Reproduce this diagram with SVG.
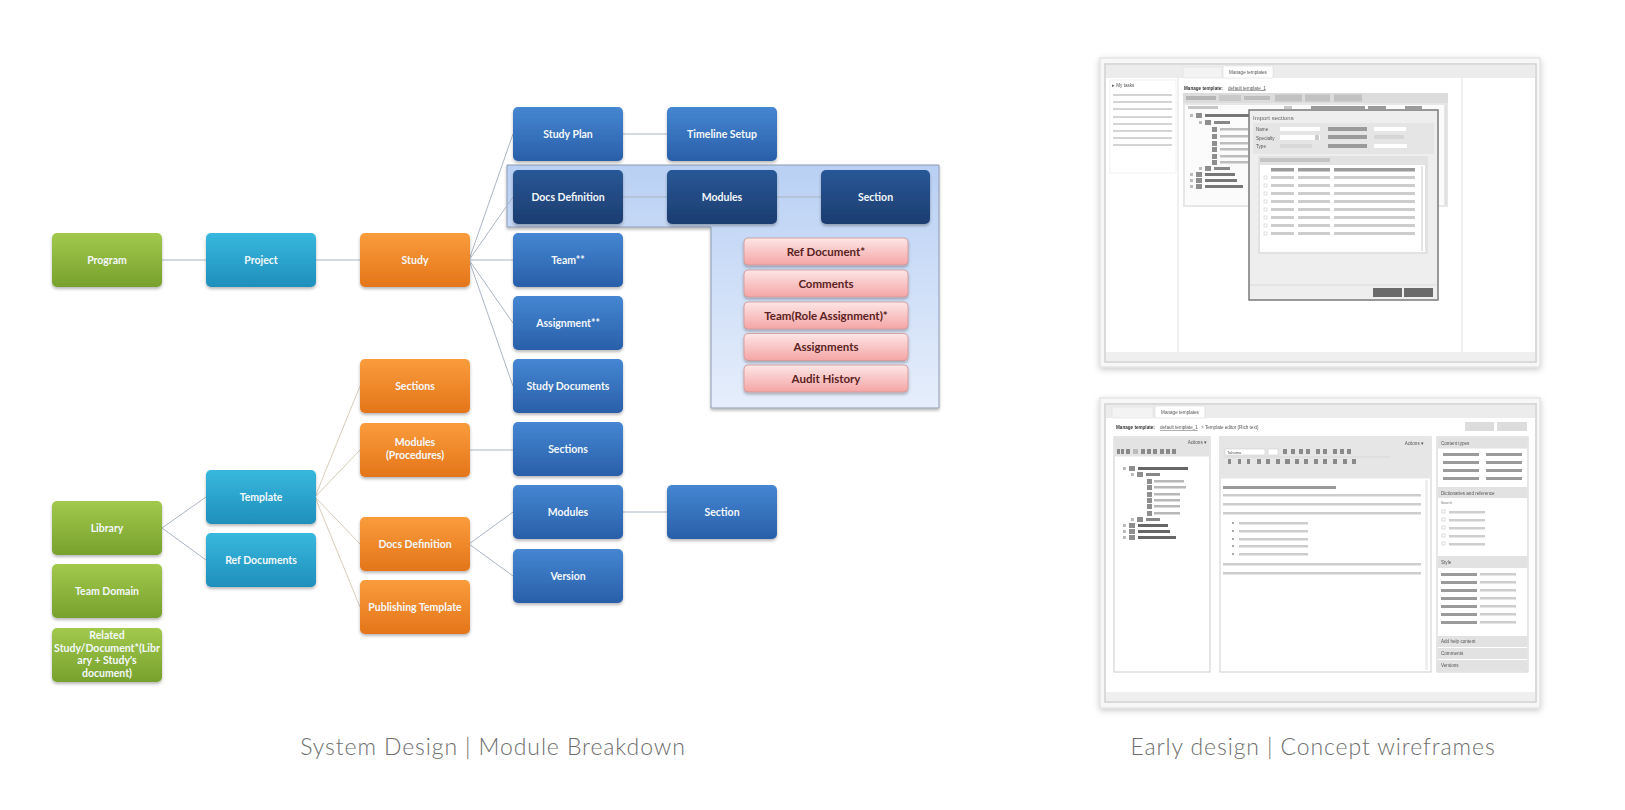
<svg xmlns="http://www.w3.org/2000/svg" width="1625" height="810" viewBox="0 0 1625 810">
<defs>
  <linearGradient id="gGreen" x1="0" y1="0" x2="0" y2="1"><stop offset="0" stop-color="#a2c94c"/><stop offset="1" stop-color="#77a12d"/></linearGradient>
  <linearGradient id="gCyan" x1="0" y1="0" x2="0" y2="1"><stop offset="0" stop-color="#38b8de"/><stop offset="1" stop-color="#1f8fbb"/></linearGradient>
  <linearGradient id="gOrange" x1="0" y1="0" x2="0" y2="1"><stop offset="0" stop-color="#fa9c3c"/><stop offset="1" stop-color="#e4751a"/></linearGradient>
  <linearGradient id="gBlue" x1="0" y1="0" x2="0" y2="1"><stop offset="0" stop-color="#4586d2"/><stop offset="1" stop-color="#2a5fa9"/></linearGradient>
  <linearGradient id="gDark" x1="0" y1="0" x2="0" y2="1"><stop offset="0" stop-color="#285896"/><stop offset="1" stop-color="#1c3d70"/></linearGradient>
  <linearGradient id="gPink" x1="0" y1="0" x2="0" y2="1"><stop offset="0" stop-color="#fde6e6"/><stop offset="1" stop-color="#f5a5a5"/></linearGradient>
  <linearGradient id="gHi" x1="0" y1="0" x2="0" y2="1"><stop offset="0" stop-color="#b9d0f4"/><stop offset="1" stop-color="#e6eefb"/></linearGradient>
  <filter id="sh" x="-10%" y="-10%" width="120%" height="130%"><feDropShadow dx="0" dy="2" stdDeviation="1.4" flood-color="#000" flood-opacity="0.28"/></filter>
  <filter id="cardSh" x="-5%" y="-5%" width="110%" height="112%"><feDropShadow dx="0" dy="2" stdDeviation="3" flood-color="#000" flood-opacity="0.22"/></filter>
  <filter id="soft" x="-2%" y="-2%" width="104%" height="104%"><feGaussianBlur stdDeviation="0.55"/></filter>
  <style>
    .n rect{filter:url(#sh);}
    .n text{font-family:Lato,"Liberation Sans",sans-serif;font-weight:700;font-size:10.5px;fill:#f4f8fb;text-anchor:middle;}
    .green rect{fill:url(#gGreen);} .cyan rect{fill:url(#gCyan);} .orange rect{fill:url(#gOrange);}
    .blue rect{fill:url(#gBlue);} .dark rect{fill:url(#gDark);}
    .pink rect{fill:url(#gPink);stroke:#cf9494;stroke-width:0.8;}
    .pink text{fill:#5a2222;font-size:11.5px;}
    .con line,.con polyline{stroke:#aab5c4;stroke-width:1;fill:none;}
    .con .tan{stroke:#d8cbb8;}
    .cap{font-family:Lato,"Open Sans",sans-serif;font-weight:300;font-size:23px;letter-spacing:0.9px;fill:#6e6e6e;text-anchor:middle;}
    .wt{font-family:"Liberation Sans",Arial,sans-serif;font-size:4.6px;fill:#555;}
    .wtb{font-family:"Liberation Sans",Arial,sans-serif;font-size:4.6px;fill:#333;font-weight:700;}
    .db{fill:#9b9b9b;} .lb{fill:#cdcdcd;} .hd{fill:#e2e2e2;}
    .ln{stroke:#c6c6c6;stroke-width:1.6;}
  </style>
</defs>
<rect width="1625" height="810" fill="#ffffff"/>

<!-- highlight region -->
<path d="M507,165 H939 V408 H711 V227 H507 Z" fill="url(#gHi)" stroke="#8c9bb0" stroke-width="1" filter="url(#sh)"/>

<g id="connectors" class="con">
  <line x1="162" y1="260" x2="206" y2="260"/>
  <line x1="315" y1="260" x2="360" y2="260"/>
  <line x1="469" y1="260" x2="513" y2="134"/>
  <line x1="469" y1="260" x2="513" y2="197"/>
  <line x1="469" y1="260" x2="513" y2="260"/>
  <line x1="469" y1="260" x2="513" y2="323"/>
  <line x1="469" y1="260" x2="513" y2="386"/>
  <line x1="623" y1="134" x2="667" y2="134"/>
  <line x1="623" y1="197" x2="667" y2="197"/>
  <line x1="777" y1="197" x2="821" y2="197"/>
  <line x1="162" y1="528" x2="206" y2="497"/>
  <line x1="162" y1="528" x2="206" y2="560"/>
  <line class="tan" x1="315" y1="497" x2="360" y2="386"/>
  <line class="tan" x1="315" y1="497" x2="360" y2="450"/>
  <line class="tan" x1="315" y1="497" x2="360" y2="544"/>
  <line class="tan" x1="315" y1="497" x2="360" y2="607"/>
  <line x1="469" y1="450" x2="513" y2="450"/>
  <line x1="469" y1="544" x2="513" y2="512"/>
  <line x1="469" y1="544" x2="513" y2="576"/>
  <line x1="623" y1="512" x2="667" y2="512"/>
</g>

<g id="program" class="n green"><rect x="52" y="233" width="110" height="54" rx="5"/><text x="107" y="264">Program</text></g>
<g id="library" class="n green"><rect x="52" y="501" width="110" height="54" rx="5"/><text x="107" y="532">Library</text></g>
<g id="team-domain" class="n green"><rect x="52" y="564" width="110" height="54" rx="5"/><text x="107" y="595">Team Domain</text></g>
<g id="related" class="n green"><rect x="52" y="628" width="110" height="54" rx="5"/><text x="107" y="639">Related</text><text x="107" y="651.5">Study/Document*(Libr</text><text x="107" y="664">ary + Study's</text><text x="107" y="676.5">document)</text></g>

<g id="project" class="n cyan"><rect x="206" y="233" width="110" height="54" rx="5"/><text x="261" y="264">Project</text></g>
<g id="template" class="n cyan"><rect x="206" y="470" width="110" height="54" rx="5"/><text x="261" y="501">Template</text></g>
<g id="ref-documents" class="n cyan"><rect x="206" y="533" width="110" height="54" rx="5"/><text x="261" y="564">Ref Documents</text></g>

<g id="study" class="n orange"><rect x="360" y="233" width="110" height="54" rx="5"/><text x="415" y="264">Study</text></g>
<g id="t-sections" class="n orange"><rect x="360" y="359" width="110" height="54" rx="5"/><text x="415" y="390">Sections</text></g>
<g id="t-modules" class="n orange"><rect x="360" y="423" width="110" height="54" rx="5"/><text x="415" y="446">Modules</text><text x="415" y="459">(Procedures)</text></g>
<g id="t-docsdef" class="n orange"><rect x="360" y="517" width="110" height="54" rx="5"/><text x="415" y="548">Docs Definition</text></g>
<g id="t-publishing" class="n orange"><rect x="360" y="580" width="110" height="54" rx="5"/><text x="415" y="611">Publishing Template</text></g>

<g id="study-plan" class="n blue"><rect x="513" y="107" width="110" height="54" rx="5"/><text x="568" y="138">Study Plan</text></g>
<g id="docs-definition" class="n dark"><rect x="513" y="170" width="110" height="54" rx="5"/><text x="568" y="201">Docs Definition</text></g>
<g id="team" class="n blue"><rect x="513" y="233" width="110" height="54" rx="5"/><text x="568" y="264">Team**</text></g>
<g id="assignment" class="n blue"><rect x="513" y="296" width="110" height="54" rx="5"/><text x="568" y="327">Assignment**</text></g>
<g id="study-documents" class="n blue"><rect x="513" y="359" width="110" height="54" rx="5"/><text x="568" y="390">Study Documents</text></g>
<g id="sections" class="n blue"><rect x="513" y="422" width="110" height="54" rx="5"/><text x="568" y="453">Sections</text></g>
<g id="modules" class="n blue"><rect x="513" y="485" width="110" height="54" rx="5"/><text x="568" y="516">Modules</text></g>
<g id="version" class="n blue"><rect x="513" y="549" width="110" height="54" rx="5"/><text x="568" y="580">Version</text></g>

<g id="timeline-setup" class="n blue"><rect x="667" y="107" width="110" height="54" rx="5"/><text x="722" y="138">Timeline Setup</text></g>
<g id="dd-modules" class="n dark"><rect x="667" y="170" width="110" height="54" rx="5"/><text x="722" y="201">Modules</text></g>
<g id="modules-section" class="n blue"><rect x="667" y="485" width="110" height="54" rx="5"/><text x="722" y="516">Section</text></g>
<g id="dd-section" class="n dark"><rect x="821" y="170" width="109" height="54" rx="5"/><text x="875.5" y="201">Section</text></g>

<g id="ref-document" class="n pink"><rect x="744" y="238" width="164" height="27" rx="4"/><text x="826" y="255.5">Ref Document*</text></g>
<g id="comments" class="n pink"><rect x="744" y="270" width="164" height="27" rx="4"/><text x="826" y="287.5">Comments</text></g>
<g id="team-role" class="n pink"><rect x="744" y="302" width="164" height="27" rx="4"/><text x="826" y="319.5">Team(Role Assignment)*</text></g>
<g id="assignments" class="n pink"><rect x="744" y="333.5" width="164" height="27" rx="4"/><text x="826" y="351">Assignments</text></g>
<g id="audit-history" class="n pink"><rect x="744" y="365" width="164" height="27" rx="4"/><text x="826" y="382.5">Audit History</text></g>

<text class="cap" x="493" y="755">System Design | Module Breakdown</text>
<text class="cap" x="1313" y="755">Early design | Concept wireframes</text>

<!-- Wireframe 1 -->
<g id="wireframe-1">
  <rect x="1100" y="58" width="440" height="309" fill="#f7f7f7" stroke="#dcdcdc" filter="url(#cardSh)"/>
  <g filter="url(#soft)">
  <rect x="1105" y="64" width="431" height="298" fill="#fff" stroke="#cfcfcf" stroke-width="1.5"/>
  <rect x="1106" y="65" width="429" height="13" fill="#ececec"/>
  <rect x="1183" y="67" width="39" height="11" fill="#f3f3f3" stroke="#e2e2e2" stroke-width="0.6"/>
  <rect x="1223" y="66" width="50" height="12" fill="#fff" stroke="#dadada" stroke-width="0.6"/>
  <text class="wt" x="1248" y="74" text-anchor="middle">Manage templates</text>
  <line x1="1178" y1="78" x2="1178" y2="352" stroke="#e0e0e0"/>
  <line x1="1462" y1="78" x2="1462" y2="352" stroke="#e0e0e0"/>
  <rect x="1110" y="80" width="66" height="93" fill="#fff" stroke="#e8e8e8" stroke-width="0.6"/>
  <text class="wt" x="1112" y="86.5">▸ My tasks</text>
  <g class="ln">
    <line x1="1113" y1="95" x2="1172" y2="95"/><line x1="1113" y1="102" x2="1172" y2="102"/>
    <line x1="1113" y1="109" x2="1172" y2="109"/><line x1="1113" y1="117" x2="1172" y2="117"/>
    <line x1="1113" y1="124" x2="1172" y2="124"/><line x1="1113" y1="131" x2="1172" y2="131"/>
    <line x1="1113" y1="138" x2="1172" y2="138"/><line x1="1113" y1="145" x2="1172" y2="145"/>
  </g>
  <rect x="1106" y="352" width="429" height="9" fill="#efefef"/>
  <text class="wtb" x="1184" y="89.5">Manage template:</text>
  <text class="wt" x="1228" y="89.5" text-decoration="underline">default template_1</text>
  <rect x="1183" y="93" width="265" height="10" fill="#dcdcdc"/>
  <rect x="1186" y="96" width="30" height="4" fill="#b5b5b5"/>
  <rect x="1219" y="95" width="22" height="6" fill="#c9c9c9"/>
  <rect x="1244" y="96" width="26" height="4" fill="#bdbdbd"/>
  <rect x="1275" y="94.5" width="27" height="7" fill="#c2c2c2"/>
  <rect x="1305" y="94.5" width="25" height="7" fill="#c2c2c2"/>
  <rect x="1334" y="94.5" width="28" height="7" fill="#c2c2c2"/>
  <rect x="1183" y="103" width="265" height="104" fill="#e7e7e7"/>
  <rect x="1185" y="105" width="259" height="100" fill="#fbfbfb"/>
  <rect x="1188" y="106" width="30" height="3" fill="#c7c7c7"/>
  <rect x="1284" y="106" width="8" height="3" fill="#c7c7c7"/>
  <rect x="1311" y="106" width="54" height="3" class="db"/>
  <rect x="1368" y="106" width="18" height="3" class="db"/>
  <rect x="1405" y="106" width="17" height="3" class="db"/>
  <rect x="1445" y="105" width="2" height="100" fill="#e0e0e0"/>
  <!-- tree -->
  <g fill="#8e8e8e">
    <rect x="1190" y="114" width="3" height="3" fill="#bbb"/><rect x="1196" y="113" width="6" height="5"/><rect x="1205" y="114" width="44" height="3" fill="#777"/>
    <rect x="1199" y="121" width="3" height="3" fill="#bbb"/><rect x="1205" y="120" width="6" height="5"/><rect x="1214" y="121" width="16" height="3" fill="#888"/>
    <rect x="1212" y="127" width="5" height="5"/><rect x="1220" y="128" width="28" height="2.5" fill="#bdbdbd"/>
    <rect x="1212" y="134" width="5" height="5"/><rect x="1220" y="135" width="28" height="2.5" fill="#bdbdbd"/>
    <rect x="1212" y="141" width="5" height="5"/><rect x="1220" y="142" width="28" height="2.5" fill="#bdbdbd"/>
    <rect x="1212" y="147" width="5" height="5"/><rect x="1220" y="148" width="28" height="2.5" fill="#bdbdbd"/>
    <rect x="1212" y="154" width="5" height="5"/><rect x="1220" y="155" width="28" height="2.5" fill="#bdbdbd"/>
    <rect x="1212" y="160" width="5" height="5"/><rect x="1220" y="161" width="28" height="2.5" fill="#bdbdbd"/>
    <rect x="1199" y="167" width="3" height="3" fill="#bbb"/><rect x="1205" y="166" width="6" height="5"/><rect x="1214" y="167" width="16" height="3" fill="#888"/>
    <rect x="1190" y="173" width="3" height="3" fill="#bbb"/><rect x="1196" y="172" width="6" height="5"/><rect x="1205" y="173" width="30" height="3" fill="#777"/>
    <rect x="1190" y="179" width="3" height="3" fill="#bbb"/><rect x="1196" y="178" width="6" height="5"/><rect x="1205" y="179" width="32" height="3" fill="#777"/>
    <rect x="1190" y="185" width="3" height="3" fill="#bbb"/><rect x="1196" y="184" width="6" height="5"/><rect x="1205" y="185" width="38" height="3" fill="#777"/>
  </g>
  <!-- modal -->
  <rect x="1249" y="110" width="189" height="190" fill="#eeeeee" stroke="#7a7a7a" stroke-width="1.5"/>
  <text x="1253" y="119.5" font-family="Liberation Sans,Arial,sans-serif" font-size="6" fill="#666">Import sections</text>
  <rect x="1253" y="123" width="181" height="31" fill="#e5e5e5"/>
  <text class="wt" x="1256" y="131">Name</text>
  <text class="wt" x="1256" y="139.5">Specialty</text>
  <text class="wt" x="1256" y="148">Type</text>
  <rect x="1280" y="127" width="40" height="4" fill="#fff"/>
  <rect x="1280" y="135" width="40" height="5" fill="#fff"/><rect x="1315" y="135" width="4" height="5" fill="#ccc"/>
  <rect x="1280" y="144" width="32" height="4" fill="#d8d8d8"/>
  <rect x="1328" y="127" width="39" height="4" class="db"/>
  <rect x="1328" y="135" width="39" height="4" class="db"/>
  <rect x="1328" y="144" width="39" height="4" class="db"/>
  <rect x="1374" y="127" width="32" height="4" fill="#fff"/>
  <rect x="1374" y="135" width="30" height="4" fill="#d6d6d6"/>
  <rect x="1374" y="144" width="33" height="4" fill="#fff"/>
  <rect x="1258" y="156" width="170" height="98" fill="#e2e2e2"/>
  <rect x="1260" y="158" width="70" height="4" fill="#c4c4c4"/>
  <rect x="1260" y="165" width="165" height="87" fill="#fff"/>
  <rect x="1271" y="168" width="23" height="3.5" class="db"/>
  <rect x="1298" y="168" width="32" height="3.5" class="db"/>
  <rect x="1334" y="168" width="81" height="3.5" class="db"/>
  <g class="lb">
    <rect x="1271" y="176" width="23" height="3"/><rect x="1298" y="176" width="32" height="3"/><rect x="1334" y="176" width="81" height="3"/>
    <rect x="1271" y="184" width="23" height="3"/><rect x="1298" y="184" width="32" height="3"/><rect x="1334" y="184" width="81" height="3"/>
    <rect x="1271" y="192" width="23" height="3"/><rect x="1298" y="192" width="32" height="3"/><rect x="1334" y="192" width="81" height="3"/>
    <rect x="1271" y="200" width="23" height="3"/><rect x="1298" y="200" width="32" height="3"/><rect x="1334" y="200" width="81" height="3"/>
    <rect x="1271" y="208" width="23" height="3"/><rect x="1298" y="208" width="32" height="3"/><rect x="1334" y="208" width="81" height="3"/>
    <rect x="1271" y="216" width="23" height="3"/><rect x="1298" y="216" width="32" height="3"/><rect x="1334" y="216" width="81" height="3"/>
    <rect x="1271" y="224" width="23" height="3"/><rect x="1298" y="224" width="32" height="3"/><rect x="1334" y="224" width="81" height="3"/>
    <rect x="1271" y="232" width="23" height="3"/><rect x="1298" y="232" width="32" height="3"/><rect x="1334" y="232" width="81" height="3"/>
  </g>
  <g fill="none" stroke="#d0d0d0" stroke-width="0.6">
    <rect x="1264" y="176" width="3" height="3"/><rect x="1264" y="184" width="3" height="3"/><rect x="1264" y="192" width="3" height="3"/><rect x="1264" y="200" width="3" height="3"/>
    <rect x="1264" y="208" width="3" height="3"/><rect x="1264" y="216" width="3" height="3"/><rect x="1264" y="224" width="3" height="3"/><rect x="1264" y="232" width="3" height="3"/>
  </g>
  <rect x="1421" y="166" width="2" height="85" fill="#e6e6e6"/>
  <line x1="1250" y1="285" x2="1437" y2="285" stroke="#dadada"/>
  <rect x="1373" y="288" width="29" height="9" fill="#6b6b6b"/>
  <rect x="1404" y="288" width="29" height="9" fill="#6b6b6b"/>
  </g>
</g>

<!-- Wireframe 2 -->
<g id="wireframe-2">
  <rect x="1100" y="398" width="440" height="310" fill="#f7f7f7" stroke="#dcdcdc" filter="url(#cardSh)"/>
  <g filter="url(#soft)">
  <rect x="1105" y="404" width="431" height="298" fill="#fff" stroke="#cfcfcf" stroke-width="1.5"/>
  <rect x="1106" y="405" width="429" height="13" fill="#ececec"/>
  <rect x="1112" y="407" width="41" height="11" fill="#f3f3f3" stroke="#e2e2e2" stroke-width="0.6"/>
  <rect x="1155" y="406" width="50" height="12" fill="#fff" stroke="#dadada" stroke-width="0.6"/>
  <text class="wt" x="1180" y="414" text-anchor="middle">Manage templates</text>
  <text class="wtb" x="1116" y="429">Manage template:</text>
  <text class="wt" x="1160" y="429" text-decoration="underline">default template_1</text>
  <text class="wt" x="1201" y="429">&gt; Template editor (Rich text)</text>
  <rect x="1465" y="422" width="29" height="9" fill="#dcdcdc"/>
  <rect x="1497" y="422" width="30" height="9" fill="#dcdcdc"/>
  <!-- left panel -->
  <rect x="1114" y="437" width="96" height="235" fill="#fff" stroke="#cdcdcd"/>
  <rect x="1114.5" y="437.5" width="95" height="19" fill="#e3e3e3"/>
  <text class="wt" x="1207" y="443.5" text-anchor="end">Actions ▾</text>
  <g fill="#8a8a8a">
    <rect x="1117" y="449" width="3" height="5"/><rect x="1121" y="449" width="3" height="5"/><rect x="1126" y="449" width="4" height="5"/><rect x="1133" y="449" width="5" height="5" fill="#bbb"/>
    <rect x="1141" y="449" width="4" height="5"/><rect x="1147" y="449" width="4" height="5"/><rect x="1153" y="449" width="4" height="5"/><rect x="1160" y="449" width="4" height="5"/><rect x="1166" y="449" width="4" height="5"/><rect x="1172" y="449" width="4" height="5"/>
  </g>
  <g fill="#8e8e8e">
    <rect x="1123" y="467" width="3" height="3" fill="#bbb"/><rect x="1129" y="466" width="6" height="5"/><rect x="1138" y="467" width="50" height="3" fill="#666"/>
    <rect x="1131" y="473" width="3" height="3" fill="#bbb"/><rect x="1137" y="472" width="6" height="5"/><rect x="1146" y="473" width="14" height="3" fill="#888"/>
    <rect x="1147" y="479" width="5" height="5"/><rect x="1154" y="480" width="30" height="2.5" fill="#b8b8b8"/>
    <rect x="1147" y="485" width="5" height="5"/><rect x="1154" y="486" width="32" height="2.5" fill="#b8b8b8"/>
    <rect x="1147" y="492" width="5" height="5"/><rect x="1154" y="493" width="26" height="2.5" fill="#b8b8b8"/>
    <rect x="1147" y="498" width="5" height="5"/><rect x="1154" y="499" width="26" height="2.5" fill="#b8b8b8"/>
    <rect x="1147" y="504" width="5" height="5"/><rect x="1154" y="505" width="26" height="2.5" fill="#b8b8b8"/>
    <rect x="1147" y="511" width="5" height="5"/><rect x="1154" y="512" width="26" height="2.5" fill="#b8b8b8"/>
    <rect x="1131" y="518" width="3" height="3" fill="#bbb"/><rect x="1137" y="517" width="6" height="5"/><rect x="1146" y="518" width="14" height="3" fill="#888"/>
    <rect x="1123" y="524" width="3" height="3" fill="#bbb"/><rect x="1129" y="523" width="6" height="5"/><rect x="1138" y="524" width="30" height="3" fill="#666"/>
    <rect x="1123" y="530" width="3" height="3" fill="#bbb"/><rect x="1129" y="529" width="6" height="5"/><rect x="1138" y="530" width="32" height="3" fill="#666"/>
    <rect x="1123" y="536" width="3" height="3" fill="#bbb"/><rect x="1129" y="535" width="6" height="5"/><rect x="1138" y="536" width="38" height="3" fill="#666"/>
  </g>
  <!-- middle panel -->
  <rect x="1220" y="437" width="211" height="235" fill="#fff" stroke="#cdcdcd"/>
  <rect x="1220.5" y="437.5" width="210" height="41" fill="#e6e6e6"/>
  <text class="wt" x="1424" y="445" text-anchor="end">Actions ▾</text>
  <rect x="1225" y="449" width="40" height="6" fill="#fff" stroke="#c8c8c8" stroke-width="0.5"/>
  <text x="1227" y="453.8" font-family="Liberation Sans,Arial,sans-serif" font-size="4" fill="#555">Tahoma</text>
  <rect x="1268" y="449" width="10" height="6" fill="#fff" stroke="#c8c8c8" stroke-width="0.5"/>
  <g fill="#8a8a8a">
    <rect x="1283" y="449" width="4" height="5"/><rect x="1291" y="449" width="4" height="5"/><rect x="1299" y="449" width="4" height="5"/><rect x="1306" y="449" width="4" height="5"/>
    <rect x="1316" y="449" width="4" height="5"/><rect x="1323" y="449" width="4" height="5"/><rect x="1333" y="449" width="4" height="5"/><rect x="1340" y="449" width="4" height="5"/><rect x="1347" y="449" width="4" height="5"/>
    <rect x="1228" y="459" width="3" height="5"/><rect x="1238" y="459" width="3" height="5"/><rect x="1247" y="459" width="3" height="5"/><rect x="1257" y="459" width="4" height="5"/><rect x="1266" y="459" width="4" height="5"/><rect x="1276" y="459" width="4" height="5"/>
    <rect x="1285" y="459" width="5" height="5"/><rect x="1295" y="459" width="4" height="5"/><rect x="1304" y="459" width="4" height="5"/><rect x="1314" y="459" width="4" height="5"/><rect x="1323" y="459" width="4" height="5"/><rect x="1333" y="459" width="4" height="5"/><rect x="1343" y="459" width="4" height="5"/><rect x="1352" y="459" width="4" height="5"/>
  </g>
  <line x1="1224" y1="457" x2="1390" y2="457" stroke="#c8c8c8" stroke-width="0.5"/>
  <rect x="1223" y="486" width="113" height="3" fill="#999"/>
  <g class="lb">
    <rect x="1223" y="494" width="198" height="2.5"/><rect x="1223" y="503" width="198" height="2.5"/><rect x="1223" y="512" width="198" height="2.5"/>
    <rect x="1239" y="522" width="69" height="2.5"/><rect x="1239" y="530" width="69" height="2.5"/><rect x="1239" y="538" width="69" height="2.5"/><rect x="1239" y="545" width="69" height="2.5"/><rect x="1239" y="553" width="69" height="2.5"/>
    <rect x="1223" y="563" width="198" height="2.5"/><rect x="1223" y="572" width="198" height="2.5"/>
  </g>
  <g fill="#888">
    <circle cx="1233" cy="523" r="1"/><circle cx="1233" cy="531" r="1"/><circle cx="1233" cy="539" r="1"/><circle cx="1233" cy="546" r="1"/><circle cx="1233" cy="554" r="1"/>
  </g>
  <rect x="1425" y="480" width="3" height="190" fill="#efefef"/>
  <!-- right panel -->
  <rect x="1437" y="437" width="91" height="235" fill="#fff" stroke="#cdcdcd"/>
  <rect x="1437.5" y="437.5" width="90" height="11" class="hd"/>
  <text class="wt" x="1441" y="444.5">Content types</text>
  <g class="db">
    <rect x="1443" y="453" width="36" height="3"/><rect x="1486" y="453" width="36" height="3"/>
    <rect x="1443" y="461" width="36" height="3"/><rect x="1486" y="461" width="36" height="3"/>
    <rect x="1443" y="469" width="36" height="3"/><rect x="1486" y="469" width="36" height="3"/>
    <rect x="1443" y="477" width="36" height="3"/><rect x="1486" y="477" width="36" height="3"/>
  </g>
  <rect x="1437.5" y="487" width="90" height="11" class="hd"/>
  <text class="wt" x="1441" y="494.5">Dictionaries and reference</text>
  <text x="1441" y="504" font-family="Liberation Sans,Arial,sans-serif" font-size="3.5" fill="#777">Search</text>
  <g fill="none" stroke="#c8c8c8" stroke-width="0.6">
    <rect x="1442" y="510" width="3" height="3"/><rect x="1442" y="518" width="3" height="3"/><rect x="1442" y="526" width="3" height="3"/><rect x="1442" y="534" width="3" height="3"/><rect x="1442" y="542" width="3" height="3"/>
  </g>
  <g class="lb">
    <rect x="1449" y="511" width="36" height="2.5"/><rect x="1449" y="519" width="36" height="2.5"/><rect x="1449" y="527" width="36" height="2.5"/><rect x="1449" y="535" width="36" height="2.5"/><rect x="1449" y="543" width="36" height="2.5"/>
  </g>
  <rect x="1437.5" y="556" width="90" height="12" class="hd"/>
  <text class="wt" x="1441" y="563.5">Style</text>
  <g class="db">
    <rect x="1441" y="573" width="36" height="3"/><rect x="1441" y="581" width="36" height="3"/><rect x="1441" y="589" width="36" height="3"/><rect x="1441" y="597" width="36" height="3"/><rect x="1441" y="605" width="36" height="3"/><rect x="1441" y="613" width="36" height="3"/><rect x="1441" y="621" width="36" height="3"/>
  </g>
  <g class="lb">
    <rect x="1480" y="573" width="36" height="2.5"/><rect x="1480" y="581" width="36" height="2.5"/><rect x="1480" y="589" width="36" height="2.5"/><rect x="1480" y="597" width="36" height="2.5"/><rect x="1480" y="605" width="36" height="2.5"/><rect x="1480" y="613" width="36" height="2.5"/><rect x="1480" y="621" width="36" height="2.5"/>
  </g>
  <rect x="1437.5" y="636" width="90" height="11" class="hd"/>
  <text class="wt" x="1441" y="643">Add help content</text>
  <rect x="1437.5" y="648" width="90" height="11" class="hd"/>
  <text class="wt" x="1441" y="655">Comments</text>
  <rect x="1437.5" y="660" width="90" height="11.5" class="hd"/>
  <text class="wt" x="1441" y="667">Versions</text>
  <rect x="1106" y="692" width="429" height="9" fill="#efefef"/>
  </g>
</g>
</svg>
